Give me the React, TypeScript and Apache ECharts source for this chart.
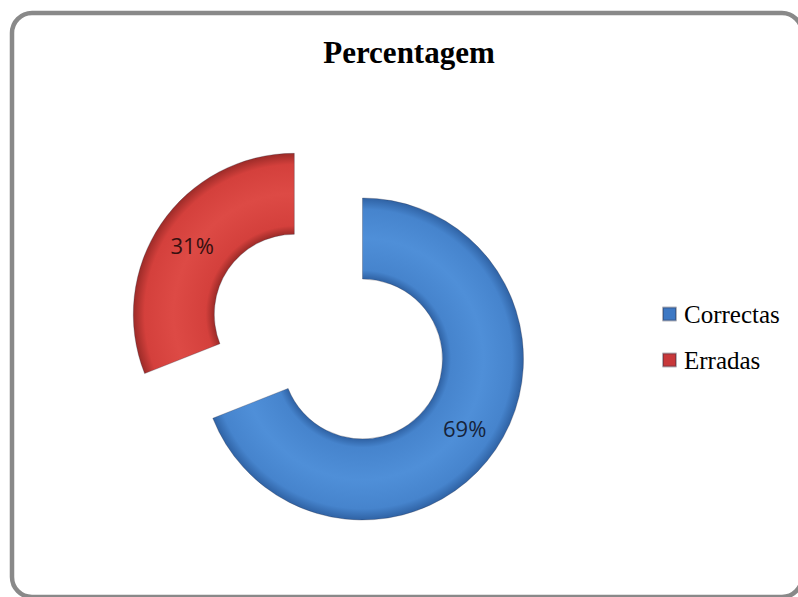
import React, { useEffect, useRef } from "react";
import * as echarts from "echarts";

const categories = ["Correctas", "Erradas"];
const values = [69, 31];
const titleText = "Percentagem";

const W = 798;
const H = 597;

function ringGradient(cx: number, cy: number, dark: string, mid: string, light: string) {
  return {
    type: "radial",
    x: cx,
    y: cy,
    r: 161,
    global: true,
    colorStops: [
      { offset: 0.0, color: dark },
      { offset: 0.497, color: dark },
      { offset: 0.55, color: mid },
      { offset: 0.75, color: light },
      { offset: 0.93, color: mid },
      { offset: 1.0, color: dark },
    ],
  };
}

export default function App() {
  const ref = useRef<HTMLDivElement>(null);
  useEffect(() => {
    if (!ref.current) return;
    const chart = echarts.init(ref.current, null, { renderer: "svg", width: W, height: H });
    const blueC: [number, number] = [362.5, 359];
    const redC: [number, number] = [294.3, 314.3];
    const blueFill = ringGradient(blueC[0], blueC[1], "#2f62a4", "#4684cd", "#4f8fd8");
    const redFill = ringGradient(redC[0], redC[1], "#9c2b28", "#d4403c", "#dd4a45");
    const hidden = {
      itemStyle: { color: "rgba(0,0,0,0)", borderWidth: 0 },
      label: { show: false },
    };
    const labelStyle = {
      show: true,
      position: "inside",
      formatter: "{c}%",
      fontFamily: "Open Sans",
      fontSize: 22,
    };
    const makeSeries = (idx: number, center: [number, number], fill: any, labelColor: string) => ({
      type: "pie",
      center,
      radius: [80, 161],
      startAngle: 90,
      clockwise: true,
      avoidLabelOverlap: false,
      silent: true,
      emphasis: { disabled: true },
      labelLine: { show: false },
      data: categories.map((name, i) =>
        i === idx
          ? {
              name,
              value: values[i],
              itemStyle: { color: fill, borderColor: "rgba(40,40,60,0.35)", borderWidth: 0.8 },
              label: { ...labelStyle, color: labelColor },
            }
          : { name: "", value: values[i], ...hidden }
      ),
    });
    chart.setOption({
      animation: false,
      backgroundColor: "#ffffff",
      legend: {
        orient: "vertical",
        left: 657,
        top: 296,
        icon: "rect",
        itemWidth: 13,
        itemHeight: 13,
        itemGap: 20,
        selectedMode: false,
        textStyle: {
          fontFamily: "Liberation Serif",
          fontSize: 25,
          lineHeight: 26,
          color: "#000",
          padding: [0, 0, 0, 3],
        },
        data: [
          { name: categories[0], itemStyle: { color: "#3d78c4" } },
          { name: categories[1], itemStyle: { color: "#c8383a" } },
        ],
      },
      graphic: [
        {
          type: "rect",
          shape: { x: 12, y: 13, width: 790, height: 584, r: 20 },
          style: { fill: "none", stroke: "#898989", lineWidth: 4.5 },
          silent: true,
        },
        {
          type: "text",
          x: 409,
          y: 52.5,
          style: {
            text: titleText,
            fontFamily: "Liberation Serif",
            fontWeight: "bold",
            fontSize: 31,
            fill: "#000",
            align: "center",
            verticalAlign: "middle",
          },
        },
      ],
      series: [
        makeSeries(0, blueC, blueFill, "#16233a"),
        makeSeries(1, redC, redFill, "#361010"),
      ],
    });
    return () => chart.dispose();
  }, []);
  return (
    <div
      ref={ref}
      style={{ position: "fixed", left: 0, top: 0, width: W, height: H }}
    />
  );
}
